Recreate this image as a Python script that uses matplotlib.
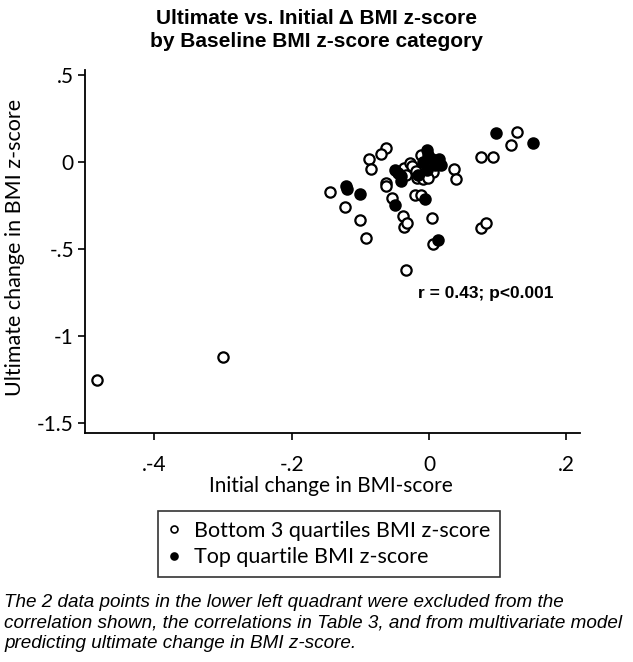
import matplotlib
matplotlib.use("Agg")
import matplotlib.pyplot as plt
from matplotlib.lines import Line2D

# bottom 3 quartiles of baseline BMI z-score (open circles)
bottom_x = [-0.484, -0.300, 0.128, 0.120, 0.076, 0.093, -0.063, -0.070, -0.087, -0.084,
            -0.144, -0.123, -0.101, -0.091, -0.062, -0.063, -0.054, -0.038, -0.036, -0.032,
            -0.033, -0.020, -0.011, 0.005, 0.006, 0.076, 0.083, 0.036, 0.039, -0.036,
            -0.028, -0.024, -0.011, 0.006, -0.018, -0.008, -0.001, -0.019, -0.033]
bottom_y = [-1.253, -1.120, 0.172, 0.098, 0.031, 0.031, 0.079, 0.044, 0.015, -0.042,
            -0.171, -0.257, -0.333, -0.439, -0.119, -0.138, -0.209, -0.310, -0.375, -0.352,
            -0.621, -0.190, -0.190, -0.324, -0.471, -0.381, -0.352, -0.038, -0.098, -0.036,
            -0.008, -0.023, 0.040, -0.056, -0.094, -0.100, -0.094, -0.050, -0.075]

# top quartile (filled circles)
top_x = [0.098, 0.152, -0.121, -0.120, -0.100, -0.049, -0.006, 0.013, -0.050, -0.045,
         -0.040, -0.041, -0.003, -0.002, -0.008, 0.004, 0.014, 0.017, 0.009, -0.003, -0.016]
top_y = [0.168, 0.111, -0.138, -0.157, -0.184, -0.247, -0.215, -0.448, -0.046, -0.061,
         -0.080, -0.107, 0.069, 0.040, 0.002, 0.015, 0.015, -0.017, -0.017, -0.046, -0.075]

xticks = [-0.4, -0.2, 0, 0.2]
xtick_labels = [".-4", "-.2", "0", ".2"]
yticks = [0.5, 0, -0.5, -1, -1.5]
ytick_labels = [".5", "0", "-.5", "-1", "-1.5"]

W, H = 633, 662
fig = plt.figure(figsize=(W / 100, H / 100), dpi=100)
ax = fig.add_axes([85 / W, 1 - 433 / H, (580 - 85) / W, (433 - 70) / H])

ax.scatter(bottom_x, bottom_y, s=55, facecolors="white", edgecolors="black",
           linewidths=1.6, zorder=3)
ax.scatter(top_x, top_y, s=55, facecolors="black", edgecolors="black",
           linewidths=1.6, zorder=4)

ax.set_xlim(-0.501, 0.220)
ax.set_ylim(-1.557, 0.529)
for s in ["top", "right"]:
    ax.spines[s].set_visible(False)
for s in ["left", "bottom"]:
    ax.spines[s].set_linewidth(1.3)

tickfont = "Lato"
ax.set_xticks(xticks)
ax.set_xticklabels(xtick_labels, fontsize=15, family=tickfont)
ax.set_yticks(yticks)
ax.set_yticklabels(ytick_labels, fontsize=15, family=tickfont)
ax.tick_params(direction="out", length=5, width=1.2)
ax.tick_params(axis="x", pad=11)
ax.tick_params(axis="y", pad=3)

ax.text(-0.016, -0.753, "r = 0.43; p<0.001", fontsize=12.5, fontweight="bold",
        family="Liberation Sans", va="center", ha="left")

fig.text(316 / W, 1 - 30 / H, "Ultimate vs. Initial \u0394 BMI z-score\nby Baseline BMI z-score category",
         ha="center", va="center", fontsize=15, fontweight="bold",
         family="Liberation Sans", linespacing=1.3)

fig.text(15 / W, 1 - 247 / H, "Ultimate change in BMI z-score", rotation=90,
         ha="center", va="center", fontsize=15.5, family=tickfont)
fig.text(331 / W, 1 - 486 / H, "Initial change in BMI-score",
         ha="center", va="center", fontsize=15, family=tickfont)

handles = [
    Line2D([], [], ls="none", marker="o", ms=5, mfc="white", mec="black", mew=1.2),
    Line2D([], [], ls="none", marker="o", ms=5, mfc="black", mec="black", mew=1.2),
]
leg = fig.legend(handles, ["Bottom 3 quartiles BMI z-score", "Top quartile BMI z-score"],
                 loc="upper left", bbox_to_anchor=(158 / W, 1 - 511 / H),
                 prop={"family": tickfont, "size": 15.5}, frameon=True, fancybox=False,
                 handlelength=0.6, handletextpad=0.6, borderpad=0.45, labelspacing=0.3,
                 borderaxespad=0)
leg.get_frame().set_edgecolor("black")
leg.get_frame().set_linewidth(1.2)

caption = ("The 2 data points in the lower left quadrant were excluded from the\n"
           "correlation shown, the correlations in Table 3, and from multivariate model\n"
           "predicting ultimate change in BMI z-score.")
fig.text(4 / W, 1 - 594 / H, caption, ha="left", va="top", fontsize=13.6,
         style="italic", family="Liberation Sans", linespacing=1.25)

fig.savefig("out.png", dpi=100, facecolor="white")
